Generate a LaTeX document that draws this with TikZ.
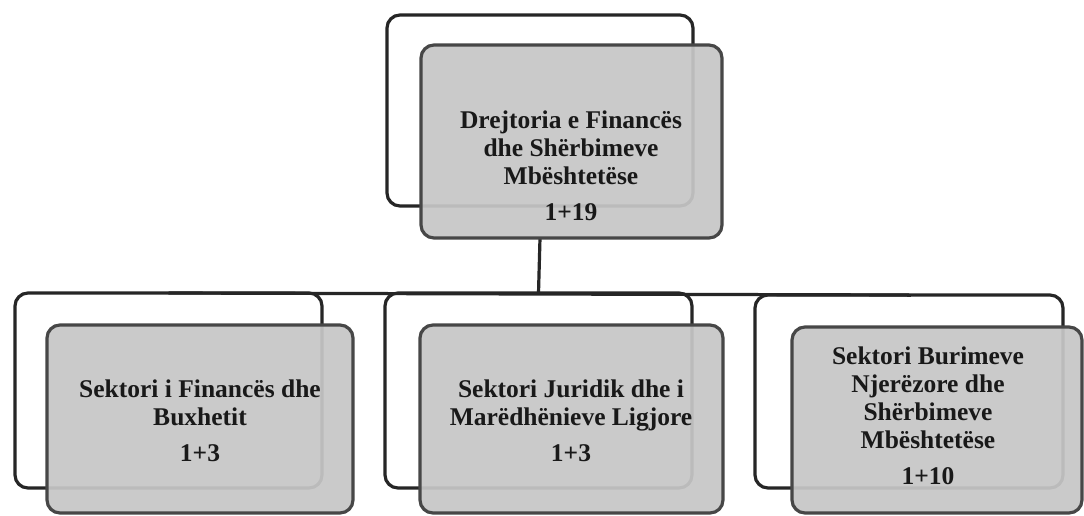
\documentclass[tikz,border=0pt]{standalone}
\usepackage{fontspec}
\setmainfont{Liberation Serif}
\begin{document}
\begin{tikzpicture}[x=1pt,y=-1pt,
  backbox/.style={draw=black!85,line width=3.2pt,rounded corners=13pt,
    fill=white,anchor=north west,inner sep=0pt,outer sep=0pt},
  frontbox/.style={draw=black!72,line width=3.2pt,rounded corners=13pt,
    fill=black!22,fill opacity=0.93,anchor=north west,inner sep=0pt,outer sep=0pt},
  boxtext/.style={align=center,text=black!90,
    font=\fontsize{25.5}{28}\selectfont\bfseries},
  link/.style={draw=black!85,line width=3.2pt}]
\useasboundingbox (0,0) rectangle (1084,515);
\fill[white] (0,0) rectangle (1084,515);

% upper level: directorate
\node[backbox,minimum width=306pt,minimum height=191pt] (topback) at (387,15) {};
% lower level: three sectors
\node[backbox,minimum width=307pt,minimum height=195pt] (leftback) at (15,293) {};
\node[backbox,minimum width=307pt,minimum height=195pt] (midback) at (385,293) {};
\node[backbox,minimum width=308pt,minimum height=193pt] (rightback) at (755,295) {};

% connectors
\draw[link] (leftback.north) -- (rightback.north);
\draw[link] (topback.south |- 0,238) -- (midback.north);
\draw[link] (rightback.north) -- ++(0,2);

% front panels
\node[frontbox,minimum width=301pt,minimum height=193pt] (topfront) at (421,45) {};
\node[frontbox,minimum width=306pt,minimum height=188pt] (leftfront) at (47,325) {};
\node[frontbox,minimum width=303pt,minimum height=188pt] (midfront) at (420,325) {};
\node[frontbox,minimum width=290pt,minimum height=186pt] (rightfront) at (792,327) {};

% labels
\node[boxtext] (toptext) at (571,166) {Drejtoria e Financës\\dhe Shërbimeve\\Mbështetëse\\[8pt]1+19};
\node[boxtext] (lefttext) at (200,421) {Sektori i Financës dhe\\Buxhetit\\[8pt]1+3};
\node[boxtext] (midtext) at (571,421) {Sektori Juridik dhe i\\Marëdhënieve Ligjore\\[8pt]1+3};
\node[boxtext] (righttext) at (928,416) {Sektori Burimeve\\Njerëzore dhe\\Shërbimeve\\Mbështetëse\\[8pt]1+10};
\end{tikzpicture}
\end{document}
